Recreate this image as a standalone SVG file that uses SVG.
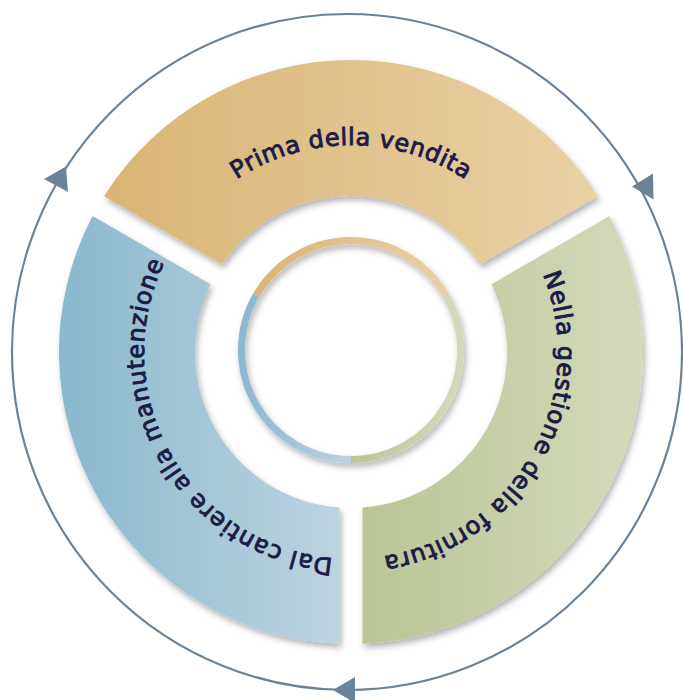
<svg xmlns="http://www.w3.org/2000/svg" width="683" height="700" viewBox="0 0 683 700">
  <defs>
    <linearGradient id="gGold" x1="0" y1="0" x2="1" y2="0">
      <stop offset="0" stop-color="#d9b574"/>
      <stop offset="1" stop-color="#e9d0a6"/>
    </linearGradient>
    <linearGradient id="gBlue" x1="0" y1="0" x2="1" y2="0">
      <stop offset="0" stop-color="#8ab8ce"/>
      <stop offset="1" stop-color="#bcd4e0"/>
    </linearGradient>
    <linearGradient id="gGreen" x1="0" y1="0" x2="1" y2="0">
      <stop offset="0" stop-color="#bac595"/>
      <stop offset="1" stop-color="#d3dabb"/>
    </linearGradient>
    <filter id="shadow" x="-10%" y="-10%" width="130%" height="130%">
      <feDropShadow dx="2" dy="4" stdDeviation="3" flood-color="#000" flood-opacity="0.3"/>
    </filter>
    <path id="tpTop" d="M 236.75 179.38 A 207 207 0 0 1 465.25 179.38"/>
    <path id="tpLeft" d="M 332.96 558.21 A 207 207 0 0 1 164.16 262.88"/>
    <path id="tpRight" d="M 542.93 274.46 A 207 207 0 0 1 383.38 556.45"/>
  </defs>
  <style>
    .lbl { font-family: "DejaVu Sans", "Liberation Sans", sans-serif; font-size: 24px; fill: #1b1b47; stroke: #1b1b47; stroke-width: 0.9px; }
    .conn { fill: none; stroke: #6b8399; stroke-width: 2.2; }
    .head { fill: #6b8399; }
    .ring { fill: none; stroke-width: 7; }
  </style>

  <g id="connectors">
    <ellipse class="conn" cx="347" cy="352" rx="335" ry="338"/>
    <polygon class="head" points="44,179 66,166.5 68,192"/>
    <polygon class="head" points="632,186.5 653,173.5 653.5,199.5"/>
    <polygon class="head" points="333,690 355,677 355,703"/>
  </g>

  <g id="node-prima">
    <path filter="url(#shadow)" fill="url(#gGold)" d="M 104.07 196.15 A 292 292 0 0 1 597.93 196.15 L 479.98 264.25 A 156 156 0 0 0 222.02 264.25 Z"/>
    <text class="lbl"><textPath href="#tpTop" textLength="242" lengthAdjust="spacing">Prima della vendita</textPath></text>
  </g>

  <g id="node-fornitura">
    <path filter="url(#shadow)" fill="url(#gGreen)" d="M 609.43 216.07 A 292 292 0 0 1 362.5 643.77 L 362.5 507.58 A 156 156 0 0 0 491.48 284.17 Z"/>
    <text class="lbl"><textPath href="#tpRight" textLength="372" lengthAdjust="spacing">Nella gestione della fornitura</textPath></text>
  </g>

  <g id="node-cantiere">
    <path filter="url(#shadow)" fill="url(#gBlue)" d="M 339.5 643.77 A 292 292 0 0 1 92.57 216.07 L 210.52 284.17 A 156 156 0 0 0 339.5 507.58 Z"/>
    <text class="lbl"><textPath href="#tpLeft" textLength="399" lengthAdjust="spacing">Dal cantiere alla manutenzione</textPath></text>
  </g>

  <g id="node-center" filter="url(#shadow)">
    <path class="ring" stroke="url(#gGold)" d="M 256.17 295.25 A 109.5 109.5 0 0 1 445.83 295.25"/>
    <path class="ring" stroke="url(#gGreen)" d="M 445.83 295.25 A 109.5 109.5 0 0 1 351 459.5"/>
    <path class="ring" stroke="url(#gBlue)" d="M 351 459.5 A 109.5 109.5 0 0 1 256.17 295.25"/>
  </g>
</svg>
